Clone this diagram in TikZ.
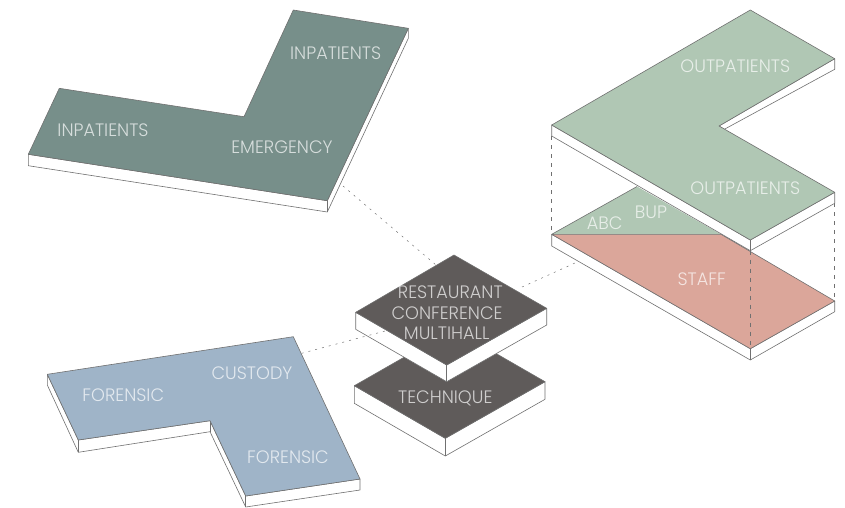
\documentclass[tikz,border=0pt]{standalone}
\usepackage{fontspec}
\setmainfont[FakeStretch=0.98]{Poppins Light}
\definecolor{emer}{HTML}{778F8A}
\definecolor{outp}{HTML}{B0C7B4}
\definecolor{stf}{HTML}{DBA69A}
\definecolor{fore}{HTML}{9FB4C8}
\definecolor{dark}{HTML}{5F5B5A}
\definecolor{edge}{HTML}{707070}
\tikzset{
  top/.style={fill=#1,draw=edge,line width=0.6pt,line join=round},
  side/.style={fill=white,draw=edge,line width=0.6pt,line join=round},
  link/.style={draw=edge,line width=0.5pt,dash pattern=on 2pt off 5pt},
  drop/.style={draw=edge,line width=0.5pt,dash pattern=on 4pt off 5pt},
  lab/.style={text=white,text opacity=0.7,font=\fontsize{18}{18}\selectfont,anchor=base,inner sep=0pt}
}
\begin{document}
\begin{tikzpicture}[x=1pt,y=-1pt]
\useasboundingbox (0,0) rectangle (845,507);
% connector ends
\coordinate (emerEnd) at (343,186);
\coordinate (midN) at (436,265);
\coordinate (midE) at (522,287);
\coordinate (staffEnd) at (586,258);
\coordinate (midW) at (385,331);
\coordinate (foreEnd) at (301.7,353.3);
% connectors
\draw[link] (emerEnd) -- (midN);
\draw[link] (midE) -- (staffEnd);
% technique slab
\draw[side] (354.3,385.7) -- (354.3,403.3) -- (445.3,456) -- (545,399.3) -- (545,381.7) -- (445.3,438.3) -- cycle;
\draw[side] (445.3,438.3) -- (445.3,456);
\draw[top=dark] (354.3,385.7) -- (453.5,329) -- (545,381.7) -- (445.3,438.3) -- cycle;
% mid slab
\draw[side] (355.7,312.3) -- (355.7,329.3) -- (446.7,381.7) -- (546.7,325) -- (546.7,308.3) -- (446.7,365) -- cycle;
\draw[side] (446.7,365) -- (446.7,381.7);
\draw[top=dark] (355.7,312.3) -- (454,255) -- (546.7,308.3) -- (446.7,365) -- cycle;
\draw[link] (foreEnd) -- (midW);
% emergency slab
\draw[side] (28.3,154.3) -- (28.3,165.7) -- (327.3,212) -- (408.3,38.3) -- (408.3,28.3) -- (327.3,200.7) -- cycle;
\draw[side] (327.3,200.7) -- (327.3,212);
\draw[top=emer] (293.3,10) -- (408.3,28.3) -- (327.3,200.7) -- (28.3,154.3) -- (59.3,88.3) -- (244,116.7) -- cycle;
% forensic slab
\draw[side] (47.3,374.3) -- (47.3,385) -- (78.3,452.3) -- (210,431.7) -- (245.7,507) -- (360,490) -- (360,479) -- (245.7,496) -- (210,420.7) -- (78.3,440) -- cycle;
\draw[side] (78.3,440) -- (78.3,452.3) (210,420.7) -- (210,431.7) (245.7,496) -- (245.7,507);
\draw[top=fore] (293.3,336.7) -- (360,479) -- (245.7,496) -- (210,420.7) -- (78.3,440) -- (47.3,374.3) -- cycle;
% lower right slab
\draw[side] (551.7,234.3) -- (551.7,246) -- (750.3,360) -- (834.7,311.7) -- (834.7,301) -- (750.3,348.7) -- cycle;
\draw[side] (750.3,348.7) -- (750.3,360);
\fill[outp] (551.7,234.3) -- (637,186.5) -- (721,234.3) -- cycle;
\draw[top=stf] (551.7,234.3) -- (721,234.3) -- (834.7,301) -- (750.3,348.7) -- cycle;
\draw[edge,line width=0.6pt] (551.7,234.3) -- (637,186.5);
% drop lines
\draw[drop] (551.7,136) -- (551.7,234.3);
\draw[drop] (750.3,250.7) -- (750.3,348.7);
\draw[drop] (834.7,203.3) -- (834.7,301);
% upper right slab
\draw[side] (551.7,125) -- (551.7,136) -- (750.3,250.7) -- (834.7,203.3) -- (834.7,192.3) -- (750.3,240) -- cycle;
\draw[side] (750.3,240) -- (750.3,250.7);
\draw[side] (834.7,58.7) -- (834.7,69.3) -- (724.3,129.3) -- (719,126) -- cycle;
\draw[top=outp] (750.3,10) -- (834.7,58.7) -- (719,126) -- (834.7,192.3) -- (750.3,240) -- (551.7,125) -- cycle;
% labels
\node[lab] (t1) at (735.3,72.7) {OUTPATIENTS};
\node[lab] (t2) at (745.3,194.7) {OUTPATIENTS};
\node[lab] (t3) at (651,218.7) {BUP};
\node[lab] (t4) at (604.7,229.3) {ABC};
\node[lab] (t5) at (701.7,285.3) {STAFF};
\node[lab] (t6) at (450.3,298.7) {RESTAURANT};
\node[lab] (t7) at (447,319) {CONFERENCE};
\node[lab] (t8) at (446.7,339) {MULTIHALL};
\node[lab] (t9) at (445.3,403.7) {TECHNIQUE};
\node[lab] (t10) at (335.7,59.3) {INPATIENTS};
\node[lab] (t11) at (103,136.7) {INPATIENTS};
\node[lab] (t12) at (282,153) {EMERGENCY};
\node[lab] (t13) at (252,379.3) {CUSTODY};
\node[lab] (t14) at (123.3,401.7) {FORENSIC};
\node[lab] (t15) at (288,463.3) {FORENSIC};
\end{tikzpicture}
\end{document}
